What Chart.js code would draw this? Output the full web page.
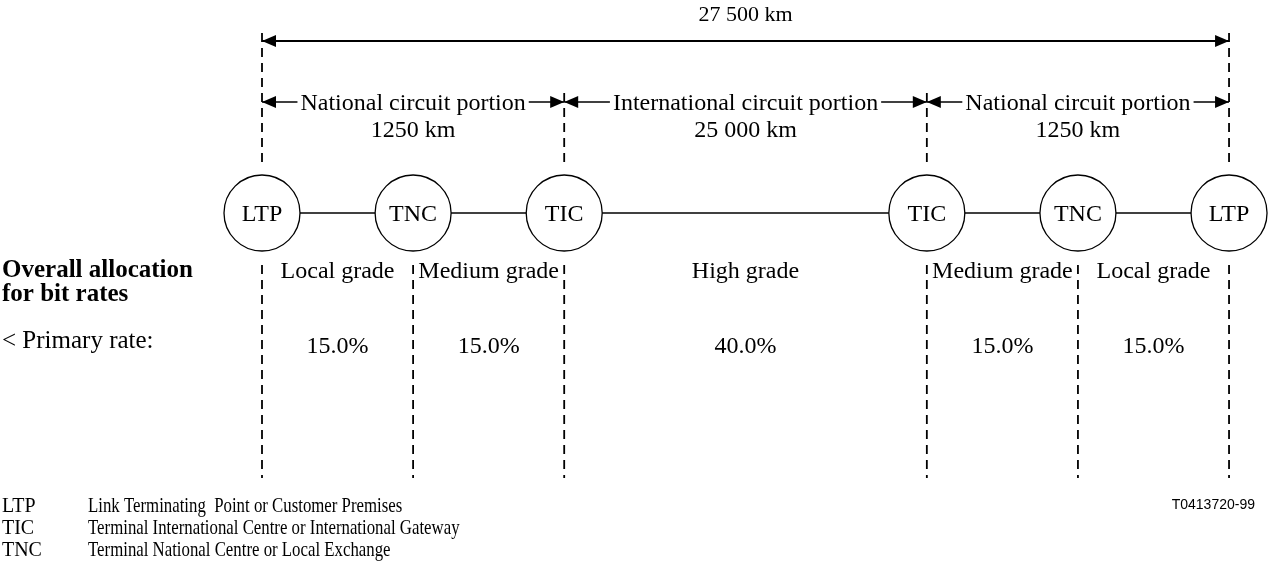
<!DOCTYPE html>
<html>
<head>
<meta charset="utf-8">
<title>Overall allocation for bit rates</title>
<script src="https://cdn.jsdelivr.net/npm/chart.js@4.4.0/dist/chart.umd.min.js"></script>
<style>
  html, body { margin: 0; padding: 0; background: #fff; }
  canvas { display: block; }
</style>
</head>
<body>
<canvas id="diagram" width="1273" height="569"></canvas>
<script>
// --- data ---
const nodeLabels = ['LTP', 'TNC', 'TIC', 'TIC', 'TNC', 'LTP'];
const portionNames = ['National circuit portion', 'International circuit portion', 'National circuit portion'];
const portionLengths = ['1250 km', '25 000 km', '1250 km'];
const portionNodes = [[0, 2], [2, 3], [3, 5]];
const totalLength = '27 500 km';
const gradeNames = ['Local grade', 'Medium grade', 'High grade', 'Medium grade', 'Local grade'];
const primaryRateShare = [15.0, 15.0, 40.0, 15.0, 15.0];
const legendAbbr = ['LTP', 'TIC', 'TNC'];
const legendText = [
  'Link Terminating  Point or Customer Premises',
  'Terminal International Centre or International Gateway',
  'Terminal National Centre or Local Exchange'
];
const figureId = 'T0413720-99';

// --- layout (x in node slots, y in canvas rows) ---
const INTL_EXTRA = 1.4; // international hop drawn wider
const slot = i => i + (i >= 3 ? INTL_EXTRA : 0);
const ROW = {
  total: 21, bigArrow: 41, portion: 102, km: 137, node: 213,
  grade: 278, allocA: 277, allocB: 301, primary: 348, rate: 353,
  dashEnd: 478, legend: 512, legendStep: 22
};
const SERIF = '"Liberation Serif", "Times New Roman", serif';

const nodePts = nodeLabels.map((_, i) => ({ x: slot(i), y: ROW.node }));

// dashed verticals, broken around the circles
const dashPts = [];
nodeLabels.forEach((n, i) => {
  const top = n === 'LTP' ? 33 : (n === 'TIC' ? 93 : null);
  if (top !== null) {
    dashPts.push({ x: slot(i), y: top }, { x: slot(i), y: ROW.node - 51 }, { x: slot(i), y: null });
  }
  dashPts.push({ x: slot(i), y: ROW.node + 52 }, { x: slot(i), y: ROW.dashEnd }, { x: slot(i), y: null });
});

const portionArrows = portionNodes.map(([a, b]) => ({
  data: [{ x: slot(a), y: ROW.portion }, { x: slot(b), y: ROW.portion }],
  showLine: true, borderColor: '#000', borderWidth: 1.6,
  pointRadius: 0, arrowHeads: true, order: 2
}));

// arrowheads at both ends of flagged datasets
const arrowHeads = {
  id: 'arrowHeads',
  afterDatasetsDraw(chart) {
    const ctx = chart.ctx;
    chart.data.datasets.forEach((ds, di) => {
      if (!ds.arrowHeads) return;
      const pts = chart.getDatasetMeta(di).data;
      const a = pts[0], b = pts[pts.length - 1];
      [[a, b], [b, a]].forEach(([tip, from]) => {
        const ang = Math.atan2(tip.y - from.y, tip.x - from.x);
        ctx.save();
        ctx.translate(tip.x, tip.y);
        ctx.rotate(ang);
        ctx.beginPath();
        ctx.moveTo(0, 0);
        ctx.lineTo(-14, -6);
        ctx.lineTo(-14, 6);
        ctx.closePath();
        ctx.fillStyle = '#000';
        ctx.fill();
        ctx.restore();
      });
    });
  }
};

// all the text of the figure
const labels = {
  id: 'labels',
  afterDraw(chart) {
    const ctx = chart.ctx;
    const px = v => chart.scales.x.getPixelForValue(v);
    const py = v => chart.scales.y.getPixelForValue(v);
    const left = chart.chartArea.left + 2;
    ctx.save();
    ctx.fillStyle = '#000';
    ctx.textBaseline = 'alphabetic';
    ctx.textAlign = 'center';

    ctx.font = '22px ' + SERIF;
    ctx.fillText(totalLength, (px(slot(0)) + px(slot(5))) / 2, py(ROW.total));

    ctx.font = '24px ' + SERIF;
    portionNodes.forEach(([a, b], i) => {
      const cx = (px(slot(a)) + px(slot(b))) / 2;
      const w = ctx.measureText(portionNames[i]).width;
      ctx.fillStyle = '#fff';
      ctx.fillRect(cx - w / 2 - 3, py(ROW.portion) - 4, w + 6, 8);
      ctx.fillStyle = '#000';
      ctx.fillText(portionNames[i], cx, py(ROW.portion) + 8);
      ctx.fillText(portionLengths[i], cx, py(ROW.km));
    });

    nodeLabels.forEach((n, i) => {
      ctx.fillText(n, px(slot(i)), py(ROW.node) + 8);
    });

    gradeNames.forEach((g, i) => {
      const cx = (px(slot(i)) + px(slot(i + 1))) / 2;
      ctx.fillText(g, cx, py(ROW.grade));
      ctx.fillText(primaryRateShare[i].toFixed(1) + '%', cx, py(ROW.rate));
    });

    ctx.textAlign = 'left';
    ctx.font = 'bold 25px ' + SERIF;
    ctx.fillText('Overall allocation', left, py(ROW.allocA));
    ctx.fillText('for bit rates', left, py(ROW.allocB));
    ctx.font = '25px ' + SERIF;
    ctx.fillText('< Primary rate:', left, py(ROW.primary));

    // legend, set in a condensed face
    ctx.font = '21px ' + SERIF;
    legendAbbr.forEach((ab, i) => {
      const y = py(ROW.legend + i * ROW.legendStep);
      [[ab, left, 0.95], [legendText[i], left + 86, 0.8]].forEach(([t, x, sx]) => {
        ctx.save();
        ctx.translate(x, y);
        ctx.scale(sx, 1);
        ctx.fillText(t, 0, 0);
        ctx.restore();
      });
    });

    ctx.textAlign = 'right';
    ctx.font = '14px "Liberation Sans", Arial, sans-serif';
    ctx.fillText(figureId, chart.chartArea.right - 18, py(ROW.legend - 3));
    ctx.restore();
  }
};

const PX_PER_SLOT = 151.1;
const X_MIN = -262 / PX_PER_SLOT;

new Chart(document.getElementById('diagram'), {
  type: 'scatter',
  data: {
    datasets: [
      {
        data: nodePts, showLine: true, borderColor: '#000', borderWidth: 1.6,
        pointRadius: 0, order: 3
      },
      {
        data: nodePts, showLine: false, pointStyle: 'circle', pointRadius: 38,
        pointBackgroundColor: '#fff', pointBorderColor: '#000', pointBorderWidth: 1.3,
        order: 1
      },
      {
        data: dashPts, showLine: true, spanGaps: false, borderColor: '#000',
        borderWidth: 1.8, borderDash: [9, 6], pointRadius: 0, order: 4
      },
      {
        data: [{ x: slot(0), y: ROW.bigArrow }, { x: slot(5), y: ROW.bigArrow }],
        showLine: true, borderColor: '#000', borderWidth: 2,
        pointRadius: 0, arrowHeads: true, order: 2
      },
      ...portionArrows
    ]
  },
  options: {
    responsive: false,
    devicePixelRatio: 1,
    animation: false,
    layout: { padding: 0, autoPadding: false },
    events: [],
    plugins: { legend: { display: false }, tooltip: { enabled: false } },
    scales: {
      x: { type: 'linear', display: false, min: X_MIN, max: X_MIN + 1273 / PX_PER_SLOT },
      y: { type: 'linear', display: false, min: 0, max: 569, reverse: true }
    }
  },
  plugins: [arrowHeads, labels]
});
</script>
</body>
</html>
